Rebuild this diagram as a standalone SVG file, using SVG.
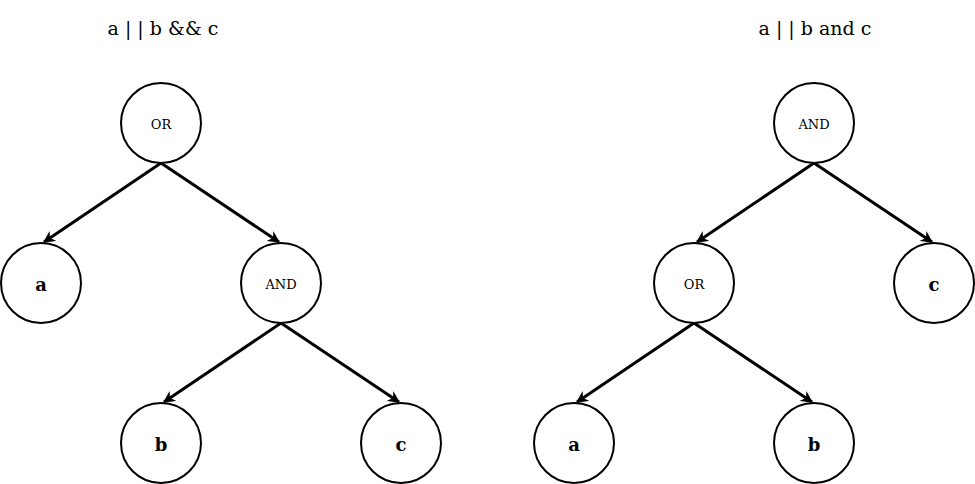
<svg xmlns="http://www.w3.org/2000/svg" width="975" height="484" viewBox="0 0 975 484">
<style>
circle{fill:#fff;stroke:#000;stroke-width:2}
text{font-family:"DejaVu Serif","Liberation Serif",serif;text-anchor:middle;dominant-baseline:central;fill:#000}
.s{font-size:13px}.b{font-size:18px;font-weight:bold}.t{font-size:19px}
.e line{stroke:#000;stroke-width:3;marker-end:url(#ar)}
</style>
<defs><marker id="ar" viewBox="0 0 10 10" refX="9" refY="5" markerWidth="4" markerHeight="4" orient="auto" markerUnits="strokeWidth"><path d="M0,0L10,5L0,10L3,5z" fill="#000"/></marker></defs>
<text class="t" x="163" y="28">a | | b &amp;&amp; c</text>
<text class="t" x="815" y="28">a | | b and c</text>
<g class="e">
<line x1="161" y1="163" x2="44" y2="242"/>
<line x1="161" y1="163" x2="279" y2="242"/>
<line x1="281" y1="323" x2="164" y2="402"/>
<line x1="281" y1="323" x2="399" y2="402"/>
<line x1="814" y1="163" x2="697" y2="242"/>
<line x1="814" y1="163" x2="932" y2="242"/>
<line x1="694" y1="323" x2="577" y2="402"/>
<line x1="694" y1="323" x2="812" y2="402"/>
</g>
<g id="L_or"><circle cx="161" cy="123" r="40"/><text class="s" x="161" y="124">OR</text></g>
<g id="L_a"><circle cx="41" cy="283" r="40"/><text class="b" x="41" y="284">a</text></g>
<g id="L_and"><circle cx="281" cy="283" r="40"/><text class="s" x="281" y="284">AND</text></g>
<g id="L_b"><circle cx="161" cy="443" r="40"/><text class="b" x="161" y="444">b</text></g>
<g id="L_c"><circle cx="401" cy="443" r="40"/><text class="b" x="401" y="444">c</text></g>
<g id="R_and"><circle cx="814" cy="123" r="40"/><text class="s" x="814" y="124">AND</text></g>
<g id="R_or"><circle cx="694" cy="283" r="40"/><text class="s" x="694" y="284">OR</text></g>
<g id="R_c"><circle cx="934" cy="283" r="40"/><text class="b" x="934" y="284">c</text></g>
<g id="R_a"><circle cx="574" cy="443" r="40"/><text class="b" x="574" y="444">a</text></g>
<g id="R_b"><circle cx="814" cy="443" r="40"/><text class="b" x="814" y="444">b</text></g>
</svg>
